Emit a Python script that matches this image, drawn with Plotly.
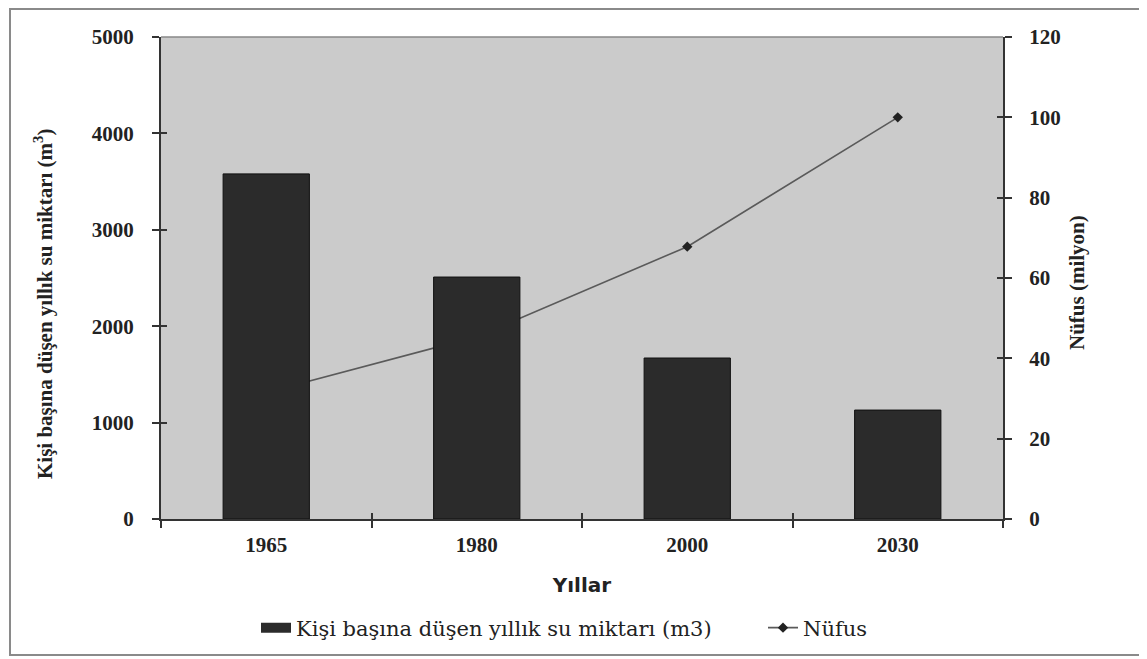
import plotly.graph_objects as go

years = ["1965", "1980", "2000", "2030"]
water = [3580, 2510, 1670, 1130]
population = [31.5, 45.4, 67.8, 100]

water_name = "Kişi başına düşen yıllık su miktarı (m3)"
pop_name = "Nüfus"
left_title = "Kişi başına düşen yıllık su miktarı (m<sup>3</sup>)"
right_title = "Nüfus (milyon)"
x_title = "Yıllar"

# page offset (default body margin) compensation
O = 8
W, H = 1147 - O, 659 - O
L, R, T, B = 161, 1003, 37, 519  # target plot-area edges in page pixels


def px_x(p):
    return (p - L) / (R - L)


def px_y(p):
    return (B - p) / (B - T)


fig = go.Figure()

# line on primary (drawn underneath), bars on overlaying axis (drawn on top)
fig.add_trace(go.Scatter(
    x=years, y=population, name=pop_name, yaxis="y",
    mode="lines+markers",
    line=dict(color="#5a5a5a", width=1.6),
    marker=dict(symbol="diamond", size=8, color="#222222"),
    legend="legend2",
))
fig.add_trace(go.Bar(
    x=years, y=water, name=water_name, yaxis="y2",
    marker=dict(color="#2b2b2b", line=dict(color="#111111", width=1)),
    width=0.41, showlegend=False,
))
# legend entry for bars as a wide dark rectangle
fig.add_trace(go.Scatter(
    x=[None], y=[None], name=water_name, yaxis="y2", mode="lines",
    line=dict(color="#2b2b2b", width=11), hoverinfo="skip", legend="legend",
))
# invisible traces so the helper axes (crossing ticks) are drawn
fig.add_trace(go.Scatter(x=[None], y=[None], xaxis="x2", yaxis="y3", mode="markers",
                         showlegend=False, hoverinfo="skip"))
fig.add_trace(go.Scatter(x=[None], y=[None], xaxis="x2", yaxis="y4", mode="markers",
                         showlegend=False, hoverinfo="skip"))

tickfont = dict(family="Liberation Serif", size=21, color="#222222", weight="bold")
titlefont = dict(family="Liberation Serif", size=21, color="#222222", weight="bold")
legfont = dict(family="DejaVu Serif", size=21, color="#222222")

fig.update_layout(
    width=W, height=H,
    margin=dict(l=L - O, r=(O + W) - R, t=T - O, b=(O + H) - B, pad=0, autoexpand=False),
    paper_bgcolor="white",
    plot_bgcolor="#cbcbcb",
    showlegend=True,
    legend=dict(
        orientation="h", x=px_x(256), xanchor="left",
        y=px_y(628), yanchor="middle",
        font=legfont, bgcolor="rgba(0,0,0,0)",
    ),
    legend2=dict(
        orientation="h", x=px_x(763), xanchor="left",
        y=px_y(628), yanchor="middle",
        font=legfont, bgcolor="rgba(0,0,0,0)",
    ),
    xaxis=dict(
        type="category",
        showline=True, linecolor="#333333", linewidth=2, mirror=False,
        ticks="outside", ticklen=7, tickwidth=1.5, tickcolor="#333333",
        tickson="boundaries",
        tickfont=tickfont,
        ticklabelstandoff=6,
        title=dict(text=x_title, font=dict(family="DejaVu Sans", size=20, color="#222222", weight="bold"), standoff=22),
        showgrid=False, zeroline=False,
    ),
    yaxis=dict(
        side="right", range=[0, 120], tickvals=[0, 20, 40, 60, 80, 100, 120],
        showline=True, linecolor="#333333", linewidth=2,
        ticks="outside", ticklen=7, tickwidth=1.5, tickcolor="#333333",
        tickfont=tickfont, ticklabelstandoff=13,
        showgrid=False, zeroline=False,
    ),
    yaxis2=dict(
        side="left", overlaying="y", range=[0, 5000],
        tickvals=[0, 1000, 2000, 3000, 4000, 5000],
        showline=True, linecolor="#333333", linewidth=2,
        ticks="outside", ticklen=7, tickwidth=1.5, tickcolor="#333333",
        tickfont=tickfont, ticklabelstandoff=14,
        showgrid=False, zeroline=False,
    ),
    # helper axes for ticks crossing the axis lines
    xaxis2=dict(overlaying="x", type="category", matches="x", side="bottom",
                ticks="inside", ticklen=6, tickwidth=1.5, tickcolor="#333333",
                tickson="boundaries", showticklabels=False, showline=False,
                showgrid=False, zeroline=False),
    yaxis3=dict(overlaying="y", side="left", range=[0, 5000],
                tickvals=[0, 1000, 2000, 3000, 4000, 5000],
                ticks="inside", ticklen=6, tickwidth=1.5, tickcolor="#333333",
                showticklabels=False, showline=False, showgrid=False, zeroline=False),
    yaxis4=dict(overlaying="y", side="right", range=[0, 120],
                tickvals=[0, 20, 40, 60, 80, 100, 120],
                ticks="inside", ticklen=6, tickwidth=1.5, tickcolor="#333333",
                showticklabels=False, showline=False, showgrid=False, zeroline=False),
)

# axis titles placed as rotated annotations
fig.add_annotation(text=left_title, xref="paper", yref="paper",
                   x=px_x(43), y=px_y(304), xanchor="center", yanchor="middle",
                   textangle=-90, showarrow=False, font=titlefont)
fig.add_annotation(text=right_title, xref="paper", yref="paper",
                   x=px_x(1077), y=px_y(283), xanchor="center", yanchor="middle",
                   textangle=-90, showarrow=False, font=titlefont)

# top border of plot area
fig.add_shape(type="line", xref="paper", yref="paper", x0=0, x1=1, y0=1, y1=1,
              line=dict(color="#888888", width=1.5), layer="above")

# outer frame
fig.add_shape(type="rect", xref="paper", yref="paper",
              x0=px_x(10), x1=px_x(1143), y0=px_y(655), y1=px_y(O + 1),
              line=dict(color="#8a8a8a", width=2), fillcolor="rgba(0,0,0,0)", layer="below")

fig.write_html("out.html")
